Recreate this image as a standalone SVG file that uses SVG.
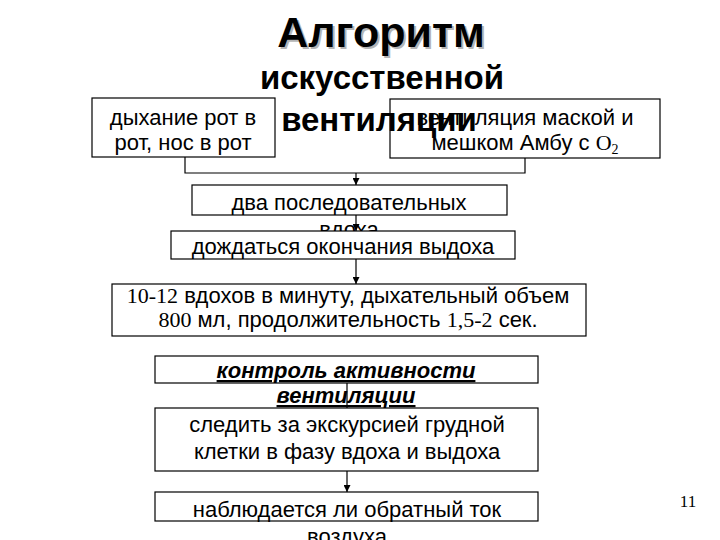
<svg xmlns="http://www.w3.org/2000/svg" width="720" height="540" viewBox="0 0 720 540">
<style>
.box{fill:#fff;stroke:#000;stroke-width:1.2}
.t{font-family:"Liberation Sans",Arial,sans-serif;font-size:22px;fill:#000;text-anchor:middle}
.s{font-family:"Liberation Serif","Times New Roman",serif}
.title{font-family:"Liberation Sans",Arial,sans-serif;font-weight:bold;fill:#000;text-anchor:middle}
.sh{fill:#b5b5b5}
.c{stroke:#000;stroke-width:1.2;fill:none}
</style>
<defs>
<marker id="ah" viewBox="0 0 10 10" refX="10" refY="5" markerWidth="7" markerHeight="7" markerUnits="userSpaceOnUse" orient="auto">
<path d="M0,0 L10,5 L0,10 z" fill="#000"/>
</marker>
</defs>
<rect width="720" height="540" fill="#fff"/>
<g id="connectors">
<path class="c" d="M185,157 V173 H525 V158"/>
<line class="c" x1="356" y1="173" x2="356" y2="185" marker-end="url(#ah)"/>
<line class="c" x1="356" y1="215" x2="356" y2="231" marker-end="url(#ah)"/>
<line class="c" x1="356" y1="259" x2="356" y2="284" marker-end="url(#ah)"/>
<line class="c" x1="347" y1="383" x2="347" y2="408"/>
<line class="c" x1="347" y1="471" x2="347" y2="492" marker-end="url(#ah)"/>
</g>
<g id="n1">
<rect class="box" x="92" y="98" width="183" height="59"/>
<text class="t" x="183" y="125">дыхание рот в</text>
<text class="t" x="183" y="150">рот, нос в рот</text>
</g>
<g id="n2">
<rect class="box" x="390" y="99" width="270" height="59"/>
<text class="t" x="525" y="125">вентиляция маской и</text>
<text class="t" x="525" y="150">мешком Амбу с <tspan class="s">O</tspan><tspan class="s" font-size="14" dy="4">2</tspan></text>
</g>
<g id="title">
<text class="title sh" x="383" y="49" font-size="43">Алгоритм</text>
<text class="title" x="381" y="47" font-size="43">Алгоритм</text>
<text class="title" x="382" y="89" font-size="33">искусственной</text>
<text class="title" x="379" y="131" font-size="33">вентиляции</text>
</g>
<g id="n3">
<rect class="box" x="192" y="185" width="315" height="30"/>
<text class="t" x="349" y="210">два последовательных</text>
<text class="t" x="349" y="237">вдоха</text>
</g>
<g id="n4">
<rect class="box" x="171" y="231" width="344" height="28"/>
<text class="t" x="343" y="254">дождаться окончания выдоха</text>
</g>
<g id="n5">
<rect class="box" x="112" y="284" width="474" height="52"/>
<text class="t" x="348" y="303"><tspan class="s">10-12</tspan> вдохов в минуту, дыхательный объем</text>
<text class="t" x="348" y="327"><tspan class="s">800</tspan> мл, продолжительность <tspan class="s">1,5-2</tspan> сек.</text>
</g>
<g id="n6">
<rect class="box" x="155" y="356" width="383" height="27"/>
<text class="t" x="346" y="378" font-weight="bold" font-style="italic" text-decoration="underline">контроль активности</text>
<text class="t" x="346" y="403" font-weight="bold" font-style="italic" text-decoration="underline">вентиляции</text>
</g>
<g id="n7">
<rect class="box" x="155" y="408" width="383" height="63"/>
<text class="t" x="347" y="432">следить за экскурсией грудной</text>
<text class="t" x="347" y="459">клетки в фазу вдоха и выдоха</text>
</g>
<g id="n8">
<rect class="box" x="155" y="492" width="383" height="29"/>
<text class="t" x="347" y="517">наблюдается ли обратный ток</text>
<text class="t" x="347" y="544">воздуха</text>
</g>
<text x="688" y="507" font-family="'Liberation Serif','Times New Roman',serif" font-size="17" text-anchor="middle">11</text>
</svg>
